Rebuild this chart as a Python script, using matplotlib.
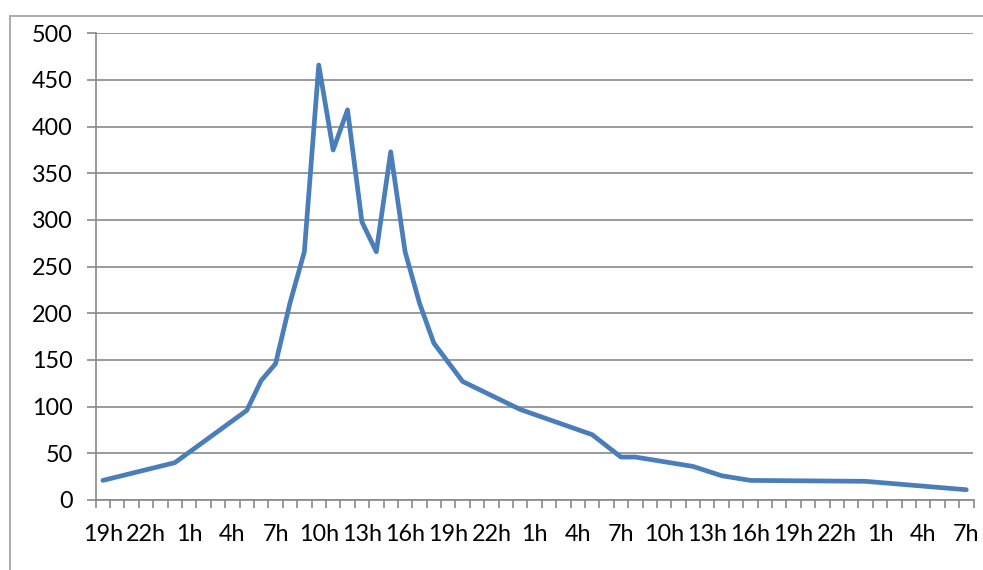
import matplotlib.pyplot as plt
from matplotlib.lines import Line2D
import numpy as np

# hours since 19h on the first day, and the count measured at that hour
hours = [0, 5, 10, 11, 12, 13, 14, 15, 16, 17, 18, 19, 20, 21, 22, 23,
         25, 29, 34, 36, 37, 41, 43, 45, 53, 60]
counts = [21, 40, 96, 128, 146, 211, 266, 466, 375, 418, 298, 266, 373, 266, 211, 168,
          127, 97, 70, 46, 46, 36, 26, 21, 20, 11]

hour_labels = ["19h", "22h", "1h", "4h", "7h", "10h", "13h", "16h", "19h", "22h", "1h",
               "4h", "7h", "10h", "13h", "16h", "19h", "22h", "1h", "4h", "7h"]
y_ticks = [0, 50, 100, 150, 200, 250, 300, 350, 400, 450, 500]

plt.rcParams["font.family"] = ["Lato", "DejaVu Sans"]
grey = "#898989"

fig = plt.figure(figsize=(9.83, 5.70), dpi=100)
ax = fig.add_axes([95.7 / 983, 1 - 500 / 570, (973.5 - 95.7) / 983, (500 - 33.3) / 570])

ax.plot(hours, counts, color="#4a7ebb", lw=3.4, solid_joinstyle="round",
        solid_capstyle="round", zorder=3)

n_cat = len(hour_labels) * 3 - 2
ax.set_xlim(-0.5, n_cat - 0.5)
ax.set_ylim(0, 500)

ax.set_yticks(y_ticks)
ax.set_yticklabels([str(v) for v in y_ticks])
ax.yaxis.grid(True, color=grey, lw=1.2)
ax.set_axisbelow(True)

ax.set_xticks(np.arange(0, n_cat, 3))
ax.set_xticklabels(hour_labels)
ax.set_xticks(np.arange(-0.5, n_cat, 1), minor=True)
ax.tick_params(axis="x", which="major", length=0, pad=17, labelsize=16.8)
ax.tick_params(axis="x", which="minor", length=6, width=1.2, color=grey, direction="out")
ax.tick_params(axis="y", length=6.5, width=1.2, color=grey, pad=10, labelsize=16.8)

for side in ["top", "right"]:
    ax.spines[side].set_visible(False)
for side in ["left", "bottom"]:
    ax.spines[side].set_color(grey)
    ax.spines[side].set_linewidth(1.2)

# chart frame along the top and left edges
fx = 9.5 / 983
fy = 1 - 15.5 / 570
fig.add_artist(Line2D([fx, 1], [fy, fy], transform=fig.transFigure, color="#a6a6a6", lw=1.3))
fig.add_artist(Line2D([fx, fx], [0, fy], transform=fig.transFigure, color="#a6a6a6", lw=1.3))

fig.savefig("out.png", dpi=100)
